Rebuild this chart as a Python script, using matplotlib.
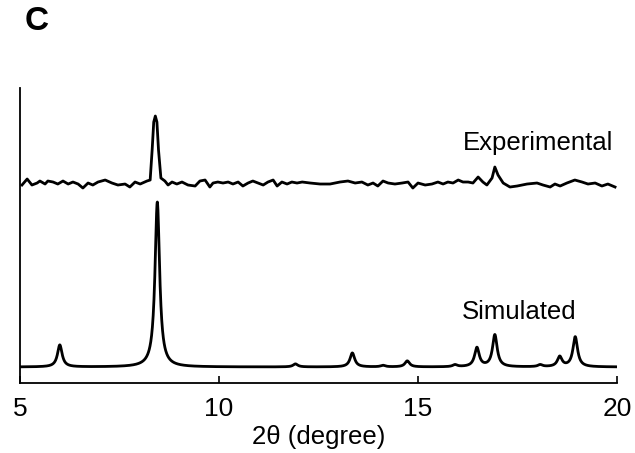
import numpy as np
import matplotlib.pyplot as plt

plt.rcParams['font.family'] = ['Liberation Sans', 'DejaVu Sans']

# -----------------------------
# Data (intensity in arbitrary units)
# -----------------------------
exp_2theta = [5.05, 5.18, 5.30, 5.43, 5.50, 5.63, 5.70, 5.83, 5.95, 6.08,
              6.21, 6.33, 6.46, 6.58, 6.71, 6.83, 6.96, 7.14, 7.31, 7.46,
              7.64, 7.76, 7.89, 8.02, 8.19, 8.27, 8.32, 8.36, 8.40, 8.44,
              8.48, 8.54, 8.64, 8.72, 8.82, 8.94, 9.07, 9.22, 9.40, 9.52,
              9.65, 9.77, 9.85, 9.97, 10.10, 10.23, 10.35, 10.48, 10.60, 10.73,
              10.85, 10.98, 11.11, 11.23, 11.36, 11.46, 11.58, 11.71, 11.83, 11.96,
              12.09, 12.29, 12.54, 12.79, 13.04, 13.24, 13.42, 13.59, 13.74, 13.87,
              13.99, 14.12, 14.25, 14.42, 14.60, 14.75, 14.87, 15.00, 15.18, 15.35,
              15.50, 15.63, 15.75, 15.88, 16.01, 16.13, 16.26, 16.38, 16.51, 16.63,
              16.73, 16.86, 16.93, 17.01, 17.14, 17.31, 17.49, 17.74, 17.99, 18.14,
              18.32, 18.44, 18.57, 18.74, 18.94, 19.12, 19.27, 19.45, 19.62, 19.77,
              19.95]
exp_int = [198, 204, 198, 200, 202, 199, 202, 201, 199, 202,
           199, 201, 199, 195, 200, 198, 201, 203, 200, 198,
           199, 196, 201, 199, 202, 203, 233, 261, 267, 261,
           233, 205, 202, 198, 201, 199, 201, 198, 197, 202,
           203, 196, 200, 201, 200, 201, 199, 201, 197, 200,
           202, 200, 198, 201, 203, 197, 201, 199, 201, 200,
           201, 200, 199, 199, 201, 202, 200, 201, 198, 200,
           197, 202, 200, 199, 200, 201, 195, 200, 198, 199,
           201, 199, 201, 200, 203, 201, 201, 200, 206, 201,
           198, 205, 216, 208, 200, 196, 197, 199, 200, 198,
           196, 199, 197, 200, 203, 201, 199, 200, 197, 199,
           196]

# simulated pattern: peak positions / heights above baseline
sim_pos = [6.00, 8.45, 11.92, 13.35, 14.12, 14.73, 15.93, 16.48, 16.93, 18.07, 18.56, 18.95]
sim_height = [22, 165, 3, 14, 1.5, 6, 2, 19, 32, 2, 10, 30]
sim_base = 16
fwhm = 0.14

# -----------------------------
# Simulated profile (Lorentzian peaks)
# -----------------------------
x = np.linspace(5, 20, 3000)
sim = np.full_like(x, sim_base, dtype=float)
for p, h in zip(sim_pos, sim_height):
    sim += h / (1 + ((x - p) / (fwhm / 2))**2)

# -----------------------------
# Plot
# -----------------------------
fig = plt.figure(figsize=(6.35, 4.53), dpi=100)
ax = fig.add_axes([0.0315, 0.1545, 0.9402, 0.6512])

ax.plot(exp_2theta, exp_int, color='black', lw=2.0, solid_joinstyle='round')
ax.plot(x, sim, color='black', lw=2.0)

ax.text(19.9, 240, "Experimental", ha='right', va='center', fontsize=18.5)
ax.text(18.99, 71, "Simulated", ha='right', va='center', fontsize=18.5)

ax.set_xlim(5, 20)
ax.set_ylim(0, 295)
ax.set_xticks([5, 10, 15, 20])
ax.set_yticks([])
ax.tick_params(axis='x', direction='in', length=5, width=1.2, labelsize=19, pad=10)
for s in ['top', 'right']:
    ax.spines[s].set_visible(False)
for s in ['left', 'bottom']:
    ax.spines[s].set_linewidth(1.3)
ax.set_xlabel("2θ (degree)", fontsize=18.5, labelpad=3)

fig.text(0.038, 0.952, "C", fontsize=24, fontweight='bold', ha='left', va='center')

fig.savefig("out.png", dpi=100)
